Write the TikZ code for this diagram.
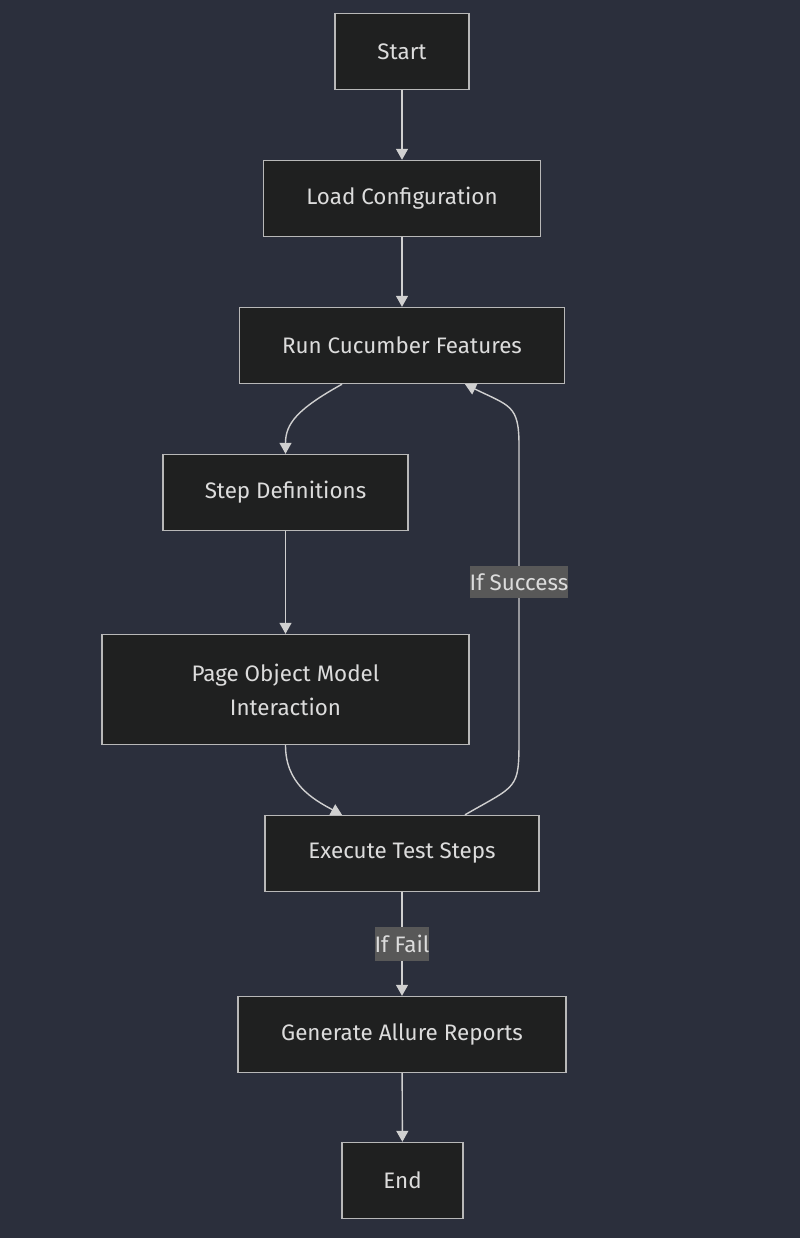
\documentclass[tikz,border=0pt]{standalone}
\usepackage{fontspec}
\setmainfont{Fira Sans}
\usetikzlibrary{arrows.meta}
\definecolor{bgdark}{HTML}{2B2F3C}
\definecolor{boxfill}{HTML}{1F2020}
\definecolor{boxline}{HTML}{B8B8B8}
\definecolor{edgeline}{HTML}{D0D0D0}
\definecolor{labelfill}{HTML}{585858}
\definecolor{textgray}{HTML}{DCDCDC}
\begin{document}
\begin{tikzpicture}[x=1pt,y=-1pt]
	\fill[bgdark] (0,0) rectangle (800,1238);
	\useasboundingbox (0,0) rectangle (800,1238);
	\begin{scope}[every node/.style={font=\fontsize{22.4}{34}\selectfont,text=textgray},line width=1.4pt]
		\tikzstyle{flowbox}=[draw=boxline,fill=boxfill,shape=rectangle,line width=1.4pt,minimum height=76pt,inner sep=0pt,align=center];
		\tikzstyle{flowedge}=[draw=edgeline,-{Triangle[width=12pt,length=11pt]}];
		\tikzstyle{edgelabel}=[fill=labelfill,inner xsep=0pt,inner ysep=0pt,minimum height=32pt,text=textgray];
		\path (402, 51.5) node [flowbox,minimum width=134pt] (start) {Start};
		\path (402, 198.5) node [flowbox,minimum width=277pt] (load)  {Load Configuration};
		\path (402, 345.5) node [flowbox,minimum width=325pt] (run)   {Run Cucumber Features};
		\path (285.5,492.5) node [flowbox,minimum width=245pt] (step)  {Step Definitions};
		\path (285.5,689.5) node [flowbox,minimum width=367pt,minimum height=110pt] (pom) {Page Object Model\\Interaction};
		\path (402, 853.5) node [flowbox,minimum width=274pt] (exec)  {Execute Test Steps};
		\path (402, 1034.5) node [flowbox,minimum width=328pt] (report) {Generate Allure Reports};
		\path (402.5,1180.5) node [flowbox,minimum width=121pt] (end)  {End};
		\coordinate (loopbot) at (519,740);
		\coordinate (looptop) at (519,445);
		\draw[flowedge] (start) -- (load);
		\draw[flowedge] (load)  -- (run);
		\draw[flowedge] ([xshift=-60pt]run.south) .. controls +(-45,25) and +(0,-30) .. (step.north);
		\draw[flowedge] (step)  -- (pom);
		\draw[flowedge] (pom.south) .. controls +(0,38) and +(-30,-16) .. ([xshift=-60pt]exec.north);
		\draw[flowedge] ([xshift=63pt]exec.north) .. controls +(52,-30) and +(0,50) .. (loopbot) -- (looptop) node [pos=0.535,edgelabel] {If Success} .. controls +(0,-40) and +(45,22) .. ([xshift=63pt]run.south);
		\draw[flowedge] (exec)  -- (report) node [pos=0.5,edgelabel,minimum height=34pt] {If Fail};
		\draw[flowedge] (report) -- (end);
	\end{scope}
\end{tikzpicture}
\end{document}
